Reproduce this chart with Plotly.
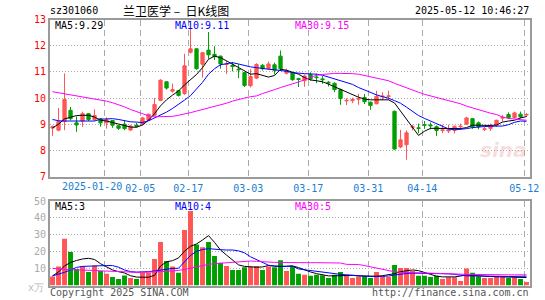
import plotly.graph_objects as go

dates = [
    "2025-01-07", "2025-01-08", "2025-01-09", "2025-01-10", "2025-01-13", "2025-01-14", "2025-01-15",
    "2025-01-16", "2025-01-17", "2025-01-20", "2025-01-21", "2025-01-22", "2025-01-23", "2025-01-24",
    "2025-01-27", "2025-02-05", "2025-02-06", "2025-02-07", "2025-02-10", "2025-02-11", "2025-02-12",
    "2025-02-13", "2025-02-14", "2025-02-17", "2025-02-18", "2025-02-19", "2025-02-20", "2025-02-21",
    "2025-02-24", "2025-02-25", "2025-02-26", "2025-02-27", "2025-02-28", "2025-03-03", "2025-03-04",
    "2025-03-05", "2025-03-06", "2025-03-07", "2025-03-10", "2025-03-11", "2025-03-12", "2025-03-13",
    "2025-03-14", "2025-03-17", "2025-03-18", "2025-03-19", "2025-03-20", "2025-03-21", "2025-03-24",
    "2025-03-25", "2025-03-26", "2025-03-27", "2025-03-28", "2025-03-31", "2025-04-01", "2025-04-02",
    "2025-04-03", "2025-04-07", "2025-04-08", "2025-04-09", "2025-04-10", "2025-04-11", "2025-04-14",
    "2025-04-15", "2025-04-16", "2025-04-17", "2025-04-18", "2025-04-21", "2025-04-22", "2025-04-23",
    "2025-04-24", "2025-04-25", "2025-04-28", "2025-04-29", "2025-04-30", "2025-05-06", "2025-05-07",
    "2025-05-08", "2025-05-09", "2025-05-12",
]

open_ = [8.85, 8.77, 9.10, 9.53, 9.05, 9.12, 9.40, 9.18, 9.21, 9.05,
         9.14, 8.94, 9.00, 8.78, 8.96, 9.00, 9.15, 9.34, 9.91, 10.62,
         10.26, 10.28, 10.17, 11.75, 11.88, 11.29, 11.83, 11.67, 11.60, 11.28,
         11.25, 11.10, 10.97, 10.47, 10.76, 11.25, 11.12, 11.27, 11.60, 10.95,
         10.97, 10.74, 10.66, 10.89, 10.80, 10.73, 10.60, 10.56, 10.32, 9.89,
         9.90, 9.95, 10.02, 9.84, 9.78, 10.05, 10.06, 9.49, 8.13, 8.21,
         8.88, 8.86, 8.98, 8.97, 8.90, 8.76, 8.74, 8.77, 8.90, 9.00,
         9.21, 9.05, 8.80, 8.84, 8.96, 9.23, 9.37, 9.25, 9.38, 9.35]
high = [8.95, 9.62, 10.94, 9.66, 9.30, 9.48, 9.42, 9.57, 9.23, 9.26,
        9.16, 8.96, 9.14, 8.96, 9.05, 9.28, 9.40, 10.00, 10.72, 10.63,
        10.55, 10.30, 11.69, 12.66, 11.90, 11.75, 12.52, 11.98, 11.62, 11.42,
        11.38, 11.29, 11.00, 11.10, 11.33, 11.30, 11.40, 11.35, 11.82, 11.12,
        10.99, 10.77, 10.90, 10.98, 10.93, 10.84, 10.65, 10.60, 10.36, 9.99,
        10.01, 10.16, 10.15, 9.86, 10.28, 10.22, 10.28, 9.52, 8.78, 8.76,
        8.98, 9.02, 9.12, 9.06, 8.95, 8.98, 8.98, 8.94, 9.02, 9.28,
        9.22, 9.10, 8.90, 9.02, 9.17, 9.35, 9.45, 9.48, 9.48, 9.42]
low = [8.55, 8.73, 8.77, 9.15, 8.71, 8.90, 9.12, 9.12, 8.90, 8.83,
       8.86, 8.78, 8.77, 8.74, 8.88, 8.95, 9.12, 9.30, 9.88, 10.32,
       10.21, 10.06, 10.12, 11.70, 11.08, 10.78, 11.50, 11.45, 11.12, 10.92,
       11.02, 10.76, 10.42, 10.40, 10.72, 11.05, 11.08, 10.90, 11.06, 10.90,
       10.66, 10.42, 10.43, 10.66, 10.57, 10.54, 10.44, 10.22, 9.74, 9.73,
       9.80, 9.74, 9.77, 9.55, 9.76, 9.92, 9.92, 8.02, 8.08, 7.64,
       8.76, 8.65, 8.82, 8.80, 8.55, 8.66, 8.66, 8.65, 8.80, 8.97,
       8.82, 8.80, 8.74, 8.74, 8.90, 9.10, 9.20, 9.22, 9.22, 9.28]
close = [8.90, 9.10, 9.94, 9.21, 8.97, 9.40, 9.18, 9.33, 9.05, 9.17,
         8.96, 8.84, 8.83, 8.93, 8.91, 9.24, 9.38, 9.75, 10.68, 10.38,
         10.32, 10.10, 11.23, 11.88, 11.12, 11.73, 11.65, 11.58, 11.30, 11.30,
         11.20, 11.08, 10.48, 10.82, 11.28, 11.12, 11.30, 11.06, 11.12, 11.05,
         10.70, 10.71, 10.84, 10.73, 10.78, 10.70, 10.58, 10.32, 9.98, 9.91,
         9.94, 9.98, 9.86, 9.72, 10.06, 10.07, 10.08, 8.05, 8.40, 8.67,
         8.90, 8.84, 8.96, 8.94, 8.76, 8.78, 8.80, 8.92, 8.92, 9.24,
         8.90, 8.90, 8.82, 8.92, 9.15, 9.26, 9.25, 9.43, 9.28, 9.37]

ma5 = [8.86, 9.00, 9.20, 9.28, 9.33, 9.34, 9.34, 9.27, 9.15, 9.12,
       9.06, 9.00, 8.95, 8.89, 8.88, 8.97, 9.15, 9.40, 9.70, 9.93,
       10.11, 10.27, 10.50, 10.70, 10.90, 11.16, 11.48, 11.60, 11.54, 11.42,
       11.29, 11.16, 11.01, 10.91, 10.93, 10.87, 10.80, 10.86, 11.10, 11.06,
       10.97, 10.91, 10.78, 10.69, 10.66, 10.62, 10.53, 10.43, 10.30, 10.20,
       10.11, 10.03, 9.96, 9.93, 9.93, 9.93, 9.93, 9.81, 9.50, 9.19,
       8.88, 8.57, 8.73, 8.84, 8.84, 8.84, 8.83, 8.83, 8.83, 8.87,
       8.96, 8.96, 8.95, 8.95, 8.97, 9.08, 9.12, 9.15, 9.24, 9.29]
ma10 = [9.18, 9.13, 9.12, 9.12, 9.12, 9.12, 9.10, 9.12, 9.19, 9.21,
        9.21, 9.18, 9.13, 9.09, 9.08, 9.06, 9.13, 9.24, 9.34, 9.46,
        9.60, 9.75, 9.92, 10.09, 10.35, 10.60, 10.91, 11.12, 11.27, 11.32,
        11.35, 11.30, 11.24, 11.19, 11.16, 11.12, 11.10, 11.08, 11.06, 11.02,
        10.97, 10.94, 10.93, 10.92, 10.91, 10.87, 10.80, 10.74, 10.68, 10.60,
        10.52, 10.40, 10.30, 10.20, 10.12, 10.05, 9.99, 9.90, 9.80, 9.65,
        9.50, 9.33, 9.22, 9.12, 9.03, 8.92, 8.82, 8.78, 8.80, 8.83,
        8.87, 8.90, 8.91, 8.92, 8.92, 8.93, 8.98, 9.07, 9.12, 9.11]
ma30 = [10.24, 10.20, 10.17, 10.12, 10.09, 10.05, 10.02, 9.98, 9.93, 9.88,
        9.82, 9.75, 9.66, 9.56, 9.48, 9.38, 9.32, 9.28, 9.28, 9.29,
        9.30, 9.34, 9.38, 9.44, 9.50, 9.56, 9.62, 9.67, 9.72, 9.80,
        9.88, 9.95, 10.00, 10.05, 10.08, 10.17, 10.26, 10.32, 10.40, 10.47,
        10.53, 10.61, 10.70, 10.80, 10.87, 10.90, 10.93, 10.94, 10.94, 10.94,
        10.93, 10.91, 10.86, 10.80, 10.74, 10.70, 10.66, 10.56, 10.47, 10.37,
        10.30, 10.22, 10.14, 10.08, 10.02, 9.96, 9.91, 9.85, 9.78, 9.69,
        9.62, 9.55, 9.47, 9.42, 9.37, 9.27, 9.22, 9.19, 9.16, 9.15]

volume = [5.3, 11.2, 27.6, 19.8, 9.8, 11.6, 8.0, 11.8, 8.6, 6.9,
          5.1, 3.9, 5.9, 4.5, 3.9, 7.6, 7.6, 15.7, 25.7, 14.5,
          11.2, 7.5, 32.9, 44.1, 24.3, 22.7, 25.7, 17.5, 13.5, 11.6,
          9.2, 9.2, 10.8, 11.2, 11.6, 9.2, 11.2, 10.8, 14.9, 8.6,
          11.6, 6.9, 6.3, 5.7, 6.3, 6.1, 4.5, 6.3, 8.0, 6.3,
          4.5, 5.3, 5.5, 4.5, 8.0, 5.5, 5.1, 12.2, 10.4, 10.4,
          8.6, 5.7, 5.7, 5.1, 5.7, 3.9, 4.9, 4.9, 2.7, 10.0,
          7.5, 5.3, 4.5, 4.5, 5.3, 5.3, 4.5, 4.9, 3.9, 2.0]
vma5 = [5.7, 8.0, 11.6, 13.6, 14.8, 15.7, 16.1, 15.4, 12.9, 10.8,
        9.2, 8.2, 7.4, 5.8, 5.0, 4.9, 4.9, 6.0, 11.5, 14.0,
        14.7, 16.3, 20.3, 23.2, 24.6, 26.9, 29.5, 25.5, 21.0, 18.0,
        15.0, 12.2, 11.3, 11.0, 10.8, 11.0, 11.8, 11.5, 11.2, 11.4,
        11.6, 10.6, 9.2, 8.0, 7.0, 6.2, 5.7, 5.7, 5.8, 6.2,
        6.0, 5.7, 5.5, 5.3, 5.5, 5.8, 6.3, 7.0, 8.2, 8.8,
        9.2, 8.8, 7.6, 6.4, 5.5, 5.1, 5.1, 5.1, 5.6, 6.3,
        5.9, 5.6, 5.4, 5.3, 5.2, 5.1, 5.1, 5.1, 5.0, 4.7]
vma10 = [5.7, 6.6, 7.8, 9.2, 10.7, 11.3, 11.5, 11.8, 11.8, 11.8,
         11.8, 10.8, 9.2, 8.2, 7.9, 7.9, 8.2, 8.6, 9.1, 9.8,
         10.1, 10.2, 14.2, 17.8, 20.2, 21.3, 21.8, 21.7, 21.2, 21.0,
         21.0, 20.5, 19.3, 17.0, 15.2, 13.5, 12.0, 11.5, 11.3, 11.3,
         11.5, 9.8, 9.3, 8.8, 8.3, 7.9, 7.5, 7.0, 6.6, 6.3,
         6.0, 5.7, 5.5, 5.3, 5.3, 5.4, 5.6, 6.2, 6.8, 7.1,
         7.3, 7.3, 7.3, 7.3, 7.2, 7.1, 6.9, 6.6, 6.0, 5.7,
         5.7, 5.7, 5.8, 5.7, 5.5, 5.4, 5.3, 5.4, 5.4, 5.5]
vma30 = [10.2, 9.8, 9.5, 9.2, 9.2, 9.2, 9.1, 8.9, 8.7, 8.5,
         8.3, 8.2, 8.0, 7.9, 7.8, 7.8, 7.8, 8.0, 8.2, 8.4,
         8.6, 8.9, 9.5, 10.2, 11.0, 12.0, 12.5, 12.9, 13.2, 13.6,
         13.9, 14.1, 14.4, 14.5, 14.3, 14.0, 13.8, 13.7, 13.6, 13.5,
         13.5, 13.5, 13.5, 13.5, 13.5, 13.5, 13.5, 13.5, 13.3, 12.5,
         12.5, 12.4, 11.8, 11.0, 10.2, 9.4, 8.6, 8.1, 7.8, 7.6,
         7.5, 7.5, 7.4, 7.3, 7.1, 7.0, 6.9, 6.8, 6.7, 6.6,
         6.5, 6.4, 6.3, 6.3, 6.3, 6.3, 6.3, 6.3, 6.3, 6.3]

tick_dates = ["2025-01-20", "2025-02-05", "2025-02-17", "2025-03-03",
              "2025-03-17", "2025-03-31", "2025-04-14", "2025-05-12"]
tick_labels = ["2025-01-20", "02-05", "02-17", "03-03", "03-17", "03-31", "04-14", "05-12"]
price_ticks = [7, 8, 9, 10, 11, 12, 13]
vol_ticks = [10, 20, 30, 40, 50]

UP = "#ff5555"
DOWN = "#009f00"
W, H = 545, 300
MONO = "DejaVu Sans Mono"
DATE_COLOR = "#1a7fd0"

x = list(range(len(dates)))
tickpos = [dates.index(d) - 0.38 for d in tick_dates]
vcolors = [UP if c >= o else DOWN for o, c in zip(open_, close)]

fig = go.Figure()
fig.add_trace(go.Candlestick(
    x=x, open=open_, high=high, low=low, close=close,
    increasing=dict(line=dict(color=UP, width=1), fillcolor=UP),
    decreasing=dict(line=dict(color=DOWN, width=1), fillcolor=DOWN),
    whiskerwidth=0, xaxis="x", yaxis="y", hoverinfo="skip"))
for arr, col in ((ma5, "#000000"), (ma10, "#0000ff"), (ma30, "#ff00ff")):
    fig.add_trace(go.Scatter(x=x, y=arr, mode="lines", line=dict(color=col, width=1),
                             xaxis="x", yaxis="y", hoverinfo="skip"))
fig.add_trace(go.Bar(x=x, y=volume, marker=dict(color=vcolors, line=dict(width=0)),
                     width=0.82, xaxis="x2", yaxis="y2", hoverinfo="skip"))
for arr, col in ((vma5, "#000000"), (vma10, "#0000ff"), (vma30, "#ff00ff")):
    fig.add_trace(go.Scatter(x=x, y=arr, mode="lines", line=dict(color=col, width=1),
                             xaxis="x2", yaxis="y2", hoverinfo="skip"))

xdom = [50 / W, 530 / W]
xr = [-0.42, 79.58]
grid = "#aaaaaa"
border = "#9a9a9a"
common_x = dict(domain=xdom, range=xr, tickmode="array", tickvals=tickpos,
                showgrid=True, gridcolor=grid, griddash="6px,4px", gridwidth=1,
                zeroline=False, showline=True, mirror=True, linecolor=border, linewidth=2,
                ticks="", fixedrange=True, automargin=False)
# first date label is drawn separately (right-aligned) so it does not collide with 02-05
axis_labels = [""] + tick_labels[1:]
fig.update_layout(
    width=W, height=H, margin=dict(l=0, r=0, t=0, b=0, autoexpand=False),
    paper_bgcolor="white", plot_bgcolor="white", showlegend=False,
    boxgap=0.22,
    xaxis=dict(**common_x, ticktext=axis_labels, anchor="y", tickangle=0,
               rangeslider=dict(visible=False), ticklabelstandoff=1,
               tickfont=dict(family=MONO, size=10, color=DATE_COLOR)),
    xaxis2=dict(**common_x, anchor="y2", showticklabels=False),
    yaxis=dict(domain=[1 - 176.5 / H, 1 - 19.5 / H], range=[7, 13], tickmode="array",
               tickvals=price_ticks, ticktext=[str(v) for v in price_ticks],
               showgrid=True, gridcolor=grid, griddash="1px,2px", zeroline=False,
               showline=True, mirror=True, linecolor=border, linewidth=2, ticks="",
               tickfont=dict(family=MONO, size=10, color="#ff0000"), anchor="x",
               fixedrange=True, automargin=False),
    yaxis2=dict(domain=[1 - 285.5 / H, 1 - 201 / H], range=[0, 50], tickmode="array",
                tickvals=vol_ticks, ticktext=[str(v) for v in vol_ticks],
                showgrid=True, gridcolor=grid, griddash="1px,2px", zeroline=False,
                showline=True, mirror=True, linecolor=border, linewidth=2, ticks="",
                tickfont=dict(family=MONO, size=10, color="#aaaaaa"), anchor="x2",
                fixedrange=True, automargin=False),
)

fig.add_annotation(text=tick_labels[0], x=tickpos[1] - 2.7, y=0, xref="x", yref="paper",
                   yanchor="middle", xanchor="right", showarrow=False,
                   font=dict(family=MONO, size=10, color=DATE_COLOR))
fig.layout.annotations[-1].y = 1 - 186 / H


def txt(s, px, py, color="#000", size=10, family=MONO, xanchor="left"):
    fig.add_annotation(text=s, x=px / W, y=1 - py / H, xref="paper", yref="paper",
                       showarrow=False, xanchor=xanchor, yanchor="middle",
                       font=dict(family=family, size=size, color=color))


txt("sz301060", 48, 11)
txt("兰卫医学\u00a0–\u00a0\u00a0日K线图", 121, 11, size=12, family="Noto Sans CJK SC")
txt("2025-05-12 10:46:27", 531, 11, xanchor="right")
txt("MA5:9.29", 53, 25)
txt("MA10:9.11", 173, 25, color="#0000ff")
txt("MA30:9.15", 293, 25, color="#ff00ff")
txt("MA5:3", 53, 207)
txt("MA10:4", 173, 207, color="#0000ff")
txt("MA30:5", 293, 207, color="#ff00ff")
txt("x万", 46, 287, color="#bbbbbb", xanchor="right")
txt("Copyright 2025 SINA.COM", 48, 292, color="#555555")
txt("http://finance.sina.com.cn", 531, 292, color="#555555", xanchor="right")
txt("<b><i>sina</i></b>", 503, 150, color="rgba(225,140,140,0.3)", size=20,
    family="DejaVu Sans", xanchor="center")

fig.write_html("out.html")
